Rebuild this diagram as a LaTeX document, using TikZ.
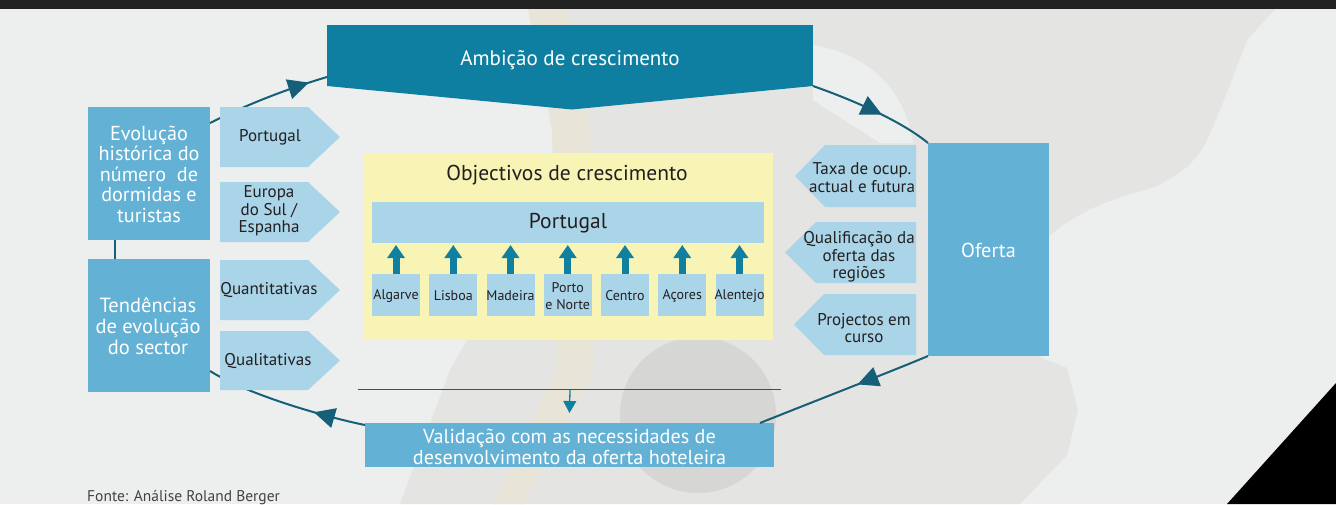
\documentclass[tikz,border=0pt]{standalone}
\usepackage{fontspec}
\setmainfont{PT Sans}
\usetikzlibrary{arrows.meta,decorations.markings}
\definecolor{bgc}{HTML}{EDEFEE}
\definecolor{mapg}{HTML}{E4E4E2}
\definecolor{circg}{HTML}{D6D6D5}
\definecolor{beige}{HTML}{E8E5D8}
\definecolor{topbar}{HTML}{212121}
\definecolor{ambc}{HTML}{0E7FA1}
\definecolor{midb}{HTML}{63B1D4}
\definecolor{lightb}{HTML}{AAD4E7}
\definecolor{yel}{HTML}{F7F4B6}
\definecolor{loopc}{HTML}{155F78}
\definecolor{arrc}{HTML}{1180A0}
\definecolor{txtc}{HTML}{231F20}
\tikzset{
  lbl/.style={align=center, inner sep=0pt, text=txtc, font=\fontsize{17}{17.5}\selectfont},
  wlbl/.style={align=center, inner sep=0pt, text=white, font=\fontsize{20.2}{20.5}\selectfont},
  rlbl/.style={align=center, inner sep=0pt, text=txtc, font=\fontsize{14}{17}\selectfont},
  box/.style={fill=midb, inner sep=0pt, outer sep=0pt},
  lbox/.style={fill=lightb, inner sep=0pt, outer sep=0pt},
  loopline/.style={draw=loopc, line width=2pt},
  midarrow/.style={postaction={decorate,decoration={markings,
     mark=at position #1 with {\arrow{Triangle[length=21pt,width=20pt]}}}}},
  regarrow/.style={draw=arrc, line width=7pt, -{Triangle[length=13pt,width=17pt]}},
}
\begin{document}
\begin{tikzpicture}[x=1pt,y=-1pt]
\useasboundingbox (0,0) rectangle (1336,504);
% background
\fill[bgc] (0,0) rectangle (1336,504);
\fill[mapg] (566,9) -- (1275,9) -- (1247,40) .. controls (1232,80) .. (1217,117)
  .. controls (1203,150) .. (1187,167) .. controls (1160,186) .. (1133,193)
  .. controls (1090,208) .. (1060,227) -- (1045,240) -- (1040,357) -- (1067,368)
  -- (1078,410) -- (1067,455) -- (1020,504) -- (400,504) -- (450,370) -- (575,150) -- cycle;
\fill[bgc] (813,45) .. controls (870,55) and (905,90) .. (913,143) -- (880,143) -- (813,100) -- cycle;
\fill[beige] (528,9) -- (567,9) -- (590,130) -- (594,370) -- (523,504) -- (493,504)
  -- (557,370) -- (552,130) -- cycle;
\fill[circg] (698,415) circle[radius=78];
\fill[black] (1336,383) -- (1336,504) -- (1227,504) -- cycle;
\fill[topbar] (0,0) rectangle (1336,9);
% main boxes
\node[box, minimum width=122pt, minimum height=133pt] (evol) at (149,173.5) {};
\node[wlbl] at (149,174) {Evolução\\histórica do\\número\ \ de\\dormidas e\\turistas};
\node[box, minimum width=122pt, minimum height=133pt] (tend) at (149,325.5) {};
\node[wlbl, font=\fontsize{20.5}{21}\selectfont] at (148,326) {Tendências\\de evolução\\do sector};
\node[fill=ambc, inner sep=0pt, outer sep=0pt, minimum width=486pt, minimum height=61pt] (amb) at (570,55.5) {};
\fill[ambc] (amb.south west) -- (572,109.5) -- (amb.south east) -- cycle;
\node[wlbl, font=\fontsize{21}{21}\selectfont] at (570,60) {Ambição de crescimento};
\node[box, minimum width=121pt, minimum height=213pt] (ofe) at (988.5,249.5) {};
\node[wlbl] at (988.5,250) {Oferta};
\node[box, minimum width=409pt, minimum height=44pt] (val) at (569.5,445) {};
\node[wlbl] at (569.5,447) {Validação com as necessidades de\\desenvolvimento da oferta hoteleira};
% loop connectors
\draw[loopline] ([xshift=-34pt]evol.south) -- ([xshift=-34pt]tend.north);
\draw[loopline, midarrow=0.85] ([yshift=-16pt]evol.north east) .. controls (250,103) and (290,88) .. ([yshift=-21.5pt]amb.west);
\draw[loopline, midarrow=0.58] (amb.south east) .. controls (850,99) and (900,120) .. (ofe.north west);
\draw[loopline, midarrow=0.42] (ofe.south west) .. controls (900,368) and (810,403) .. ([xshift=-14pt]val.north east);
\draw[loopline, midarrow=0.32] ([yshift=-2pt]val.north west) .. controls (330,418) and (250,396) .. ([yshift=21pt]tend.south east);
% left pentagons
\fill[lightb] (220,107) -- (308,107) -- (340,137) -- (308,167) -- (220,167) -- cycle;
\node[lbl] (lp1) at (270,137) {Portugal};
\fill[lightb] (220,182) -- (308,182) -- (340,212) -- (308,242) -- (220,242) -- cycle;
\node[lbl] (lp2) at (269,211) {Europa\\do Sul /\\Espanha};
\fill[lightb] (220,260) -- (308,260) -- (340,290) -- (308,320) -- (220,320) -- cycle;
\node[lbl] (lp3) at (269,290) {Quantitativas};
\fill[lightb] (220,331) -- (308,331) -- (340,360.5) -- (308,390) -- (220,390) -- cycle;
\node[lbl] (lp4) at (268,361) {Qualitativas};
% right pentagons
\fill[lightb] (916,145) -- (825,145) -- (795,176) -- (825,207) -- (916,207) -- cycle;
\node[lbl] (rp1) at (862,177.5) {Taxa de ocup.\\actual e futura};
\fill[lightb] (916,222) -- (816,222) -- (785,252.5) -- (816,283) -- (916,283) -- cycle;
\node[lbl] (rp2) at (859,257) {Qualificação da\\oferta das\\regiões};
\fill[lightb] (916,294) -- (824,294) -- (794,324.5) -- (824,355) -- (916,355) -- cycle;
\node[lbl] (rp3) at (864,328) {Projectos em\\curso};
% objectives
\node[fill=yel, inner sep=0pt, minimum width=409pt, minimum height=187pt] (obj) at (568.5,246.5) {};
\node[wlbl, text=txtc, font=\fontsize{21.5}{21}\selectfont] (objt) at (567,175) {Objectivos de crescimento};
\node[lbox, minimum width=392pt, minimum height=41pt] (bar) at (568,222.5) {};
\node[wlbl, text=txtc, font=\fontsize{21.5}{21}\selectfont] at (568,223) {Portugal};
\foreach \i/\t [count=\k from 0] in {r1/Algarve, r2/Lisboa, r3/Madeira, r4/{Porto\\e Norte}, r5/Centro, r6/Açores, r7/Alentejo} {
  \node[lbox, minimum width=48pt, minimum height=42pt] (\i) at (396+57.25*\k,295) {};
  \node[rlbl] at (396+57.25*\k,296) {\t};
  \draw[regarrow] (\i.north) -- ([yshift=-2pt]\i.north |- bar.south);
}
% validation line
\coordinate (hl1) at (358,389.5);
\coordinate (hl2) at (781,389.5);
\coordinate (hlm) at (570,389.5);
\draw[draw=loopc, line width=1.6pt] (hl1) -- (hl2);
\draw[draw=arrc, line width=1.3pt, -{Triangle[length=12pt,width=13pt]}] (hlm) -- ([yshift=10pt]val.north);
% source
\node[anchor=base west, inner sep=0pt, text=txtc!85, font=\fontsize{15.5}{15.5}\selectfont] (src) at (87,501) {Fonte: Análise Roland Berger};
\end{tikzpicture}
\end{document}
